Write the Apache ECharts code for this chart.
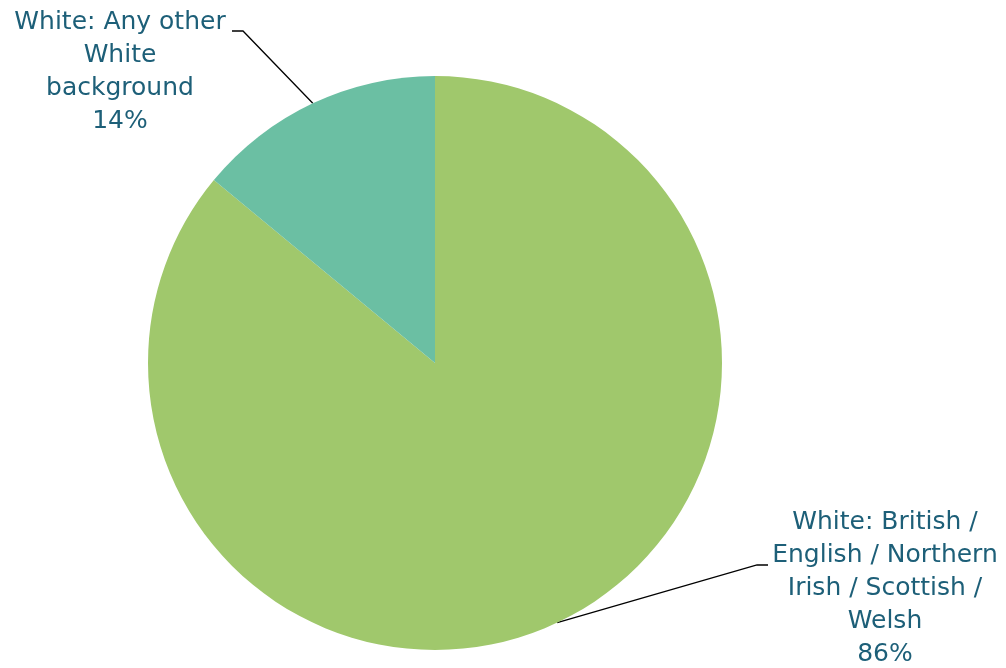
<!DOCTYPE html>
<html>
<head>
<meta charset="utf-8">
<script src="https://cdn.jsdelivr.net/npm/echarts@6/dist/echarts.min.js"></script>
<style>
html,body{margin:0;padding:0;background:#fff;}
#chart{width:1006px;height:668px;}
</style>
</head>
<body>
<div id="chart"></div>
<script>
// Data
const categories = [
  'White: British / English / Northern Irish / Scottish / Welsh',
  'White: Any other White background'
];
const labelTexts = [
  'White: British /\nEnglish / Northern\nIrish / Scottish /\nWelsh',
  'White: Any other\nWhite\nbackground'
];
const values = [86, 14];
const colors = ['#A0C86C', '#6BBFA3'];

const chart = echarts.init(document.getElementById('chart'), null, {renderer: 'canvas'});

const CX = 435, CY = 363, R = 287;

function anchorFor(p) {
  if (p.labelLinePoints && p.labelLinePoints[0]) return p.labelLinePoints[0];
  let start = 0;
  for (let i = 0; i < p.dataIndex; i++) start += values[i];
  const total = values.reduce((a, b) => a + b, 0);
  const mid = (start + values[p.dataIndex] / 2) / total * Math.PI * 2;
  const ang = Math.PI / 2 - mid;
  return [CX + R * Math.cos(ang), CY - R * Math.sin(ang)];
}

const option = {
  backgroundColor: '#ffffff',
  animation: false,
  series: [{
    type: 'pie',
    center: [CX, CY],
    radius: R,
    startAngle: 90,
    clockwise: true,
    data: categories.map((c, i) => ({
      name: c,
      value: values[i],
      itemStyle: {color: colors[i]}
    })),
    itemStyle: {borderWidth: 0},
    label: {
      show: true,
      position: 'outside',
      color: '#1D5F78',
      fontFamily: 'DejaVu Sans',
      fontSize: 25,
      lineHeight: 33,
      align: 'center',
      formatter: function (p) {
        return labelTexts[p.dataIndex] + '\n' + Math.round(p.percent) + '%';
      }
    },
    labelLine: {
      show: true,
      lineStyle: {color: '#000000', width: 1.3}
    },
    labelLayout: function (p) {
      const a = anchorFor(p);
      if (p.dataIndex === 1) {
        return {
          x: 120, y: 72, align: 'center', verticalAlign: 'middle',
          labelLinePoints: [a, [243, 31], [232, 31]]
        };
      }
      return {
        x: 885, y: 588, align: 'center', verticalAlign: 'middle',
        labelLinePoints: [a, [757, 565], [768, 565]]
      };
    }
  }]
};
chart.setOption(option);
</script>
</body>
</html>
